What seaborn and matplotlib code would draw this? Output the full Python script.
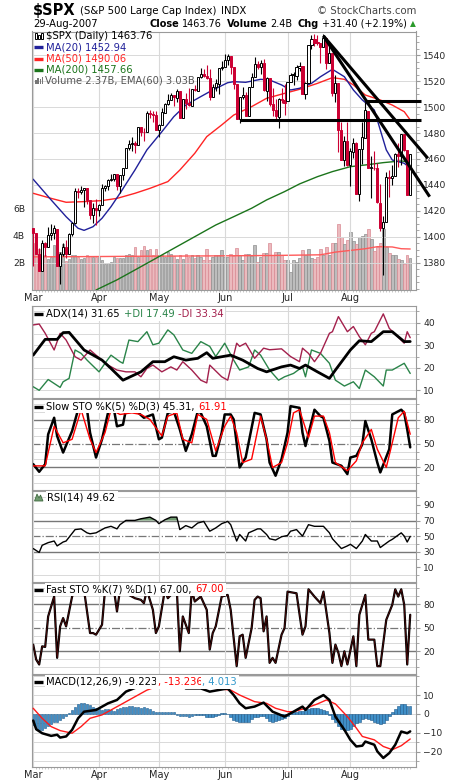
import numpy as np
import pandas as pd
import matplotlib
matplotlib.use('Agg')
import matplotlib.pyplot as plt
from matplotlib.lines import Line2D
from matplotlib.patches import Rectangle, Polygon
from matplotlib.ticker import MultipleLocator
import seaborn as sns

# trading days 1 Mar - 29 Aug 2007
holidays = ['2007-04-06', '2007-05-28', '2007-07-04']
dates = pd.bdate_range('2007-03-01', '2007-08-29').drop(pd.to_datetime(holidays))

opens = [1406.8, 1403.2, 1387.1, 1374.1, 1395.0, 1392.0, 1401.9, 1402.8, 1406.2, 1377.9, 1387.1, 1392.3, 1387.1, 1402.0, 1410.9, 1435.0, 1434.5, 1436.1, 1437.5, 1428.4, 1417.2, 1422.5,
         1420.8, 1424.3, 1437.8, 1439.4, 1443.8, 1444.6, 1448.2, 1438.9, 1447.8, 1452.8, 1468.5, 1471.5, 1472.5, 1470.7, 1484.3, 1480.9, 1480.4, 1495.3, 1494.2, 1494.1,
         1482.4, 1486.1, 1495.6, 1502.4, 1505.6, 1509.4, 1507.3, 1512.3, 1491.5, 1505.8, 1503.1, 1500.8, 1514.0, 1512.7, 1522.8, 1525.1, 1524.1, 1522.1, 1507.5, 1515.6, 1517.6, 1530.2,
         1530.6, 1536.3, 1539.1, 1530.6, 1517.4, 1490.7, 1507.6, 1509.1, 1492.7, 1515.6, 1523.0, 1532.9, 1531.1, 1533.7, 1512.5, 1522.2, 1502.6, 1497.7, 1492.6, 1506.3, 1505.7,
         1504.7, 1519.1, 1524.9, 1524.0, 1530.4, 1531.9, 1510.1, 1518.7, 1547.7, 1552.5, 1549.5, 1549.2, 1546.1, 1553.2, 1534.1, 1541.6, 1511.0, 1518.1, 1482.4, 1458.9, 1473.9,
         1455.2, 1465.5, 1472.2, 1433.0, 1467.6, 1476.2, 1497.2, 1453.1, 1453.4, 1452.9, 1426.2, 1406.6, 1411.3, 1445.9, 1445.6, 1447.0, 1464.1, 1462.3, 1479.4, 1466.7, 1432.0]
highs = [1406.8, 1403.4, 1391.9, 1397.9, 1396.1, 1407.9, 1410.2, 1409.3, 1406.2, 1388.1, 1395.7, 1397.5, 1403.2, 1411.5, 1437.8, 1437.7, 1438.9, 1437.7, 1437.5, 1428.4, 1426.2, 1429.2,
         1425.5, 1440.6, 1440.2, 1444.9, 1448.1, 1448.7, 1448.4, 1448.0, 1453.1, 1468.6, 1474.4, 1476.6, 1474.2, 1484.7, 1484.3, 1483.8, 1496.6, 1498.0, 1497.3, 1497.2,
         1487.3, 1499.1, 1503.3, 1510.3, 1511.0, 1509.4, 1513.8, 1512.3, 1506.2, 1510.9, 1514.8, 1514.2, 1517.1, 1522.8, 1529.9, 1529.2, 1532.4, 1529.3, 1517.4, 1521.8, 1530.2, 1535.6,
         1540.6, 1540.5, 1539.1, 1530.6, 1517.4, 1507.8, 1515.5, 1511.3, 1515.7, 1526.5, 1538.7, 1535.4, 1535.9, 1537.3, 1522.9, 1522.2, 1514.3, 1506.1, 1506.8, 1514.8, 1517.5,
         1519.5, 1526.0, 1526.6, 1532.4, 1534.3, 1531.9, 1519.3, 1547.9, 1555.1, 1555.9, 1555.3, 1549.2, 1555.9, 1553.2, 1547.2, 1541.6, 1524.3, 1518.1, 1488.5, 1477.9, 1488.3,
         1468.4, 1476.4, 1473.2, 1467.7, 1488.3, 1503.9, 1497.2, 1462.0, 1466.3, 1456.7, 1440.8, 1415.9, 1450.3, 1451.8, 1455.3, 1464.9, 1472.1, 1479.4, 1479.4, 1466.7, 1463.8]
lows = [1377.7, 1386.9, 1374.0, 1374.1, 1385.2, 1392.0, 1397.3, 1398.4, 1377.7, 1364.0, 1385.2, 1383.6, 1387.1, 1400.7, 1409.9, 1429.9, 1433.2, 1423.3, 1425.5, 1414.1, 1410.9, 1408.9,
        1416.4, 1424.3, 1435.1, 1436.0, 1443.3, 1443.0, 1436.2, 1433.9, 1444.1, 1452.8, 1467.2, 1466.4, 1464.5, 1470.7, 1478.0, 1473.7, 1480.4, 1491.4, 1488.7, 1482.3,
        1476.7, 1486.1, 1495.6, 1501.8, 1505.5, 1500.7, 1503.8, 1491.4, 1491.5, 1498.3, 1500.4, 1500.8, 1512.1, 1512.7, 1522.7, 1523.0, 1521.9, 1505.2, 1507.5, 1512.0, 1510.1, 1528.7,
        1530.6, 1532.6, 1525.6, 1514.1, 1490.4, 1487.4, 1505.8, 1493.0, 1492.7, 1515.6, 1523.0, 1529.3, 1525.7, 1512.4, 1504.8, 1500.7, 1492.7, 1490.5, 1484.2, 1503.4, 1493.6,
        1504.7, 1519.1, 1517.2, 1520.5, 1527.5, 1510.0, 1506.1, 1518.7, 1544.9, 1546.7, 1547.7, 1533.7, 1546.1, 1529.2, 1534.1, 1508.6, 1503.7, 1465.3, 1458.9, 1454.3, 1454.3,
        1439.6, 1460.6, 1432.8, 1427.4, 1455.8, 1476.2, 1453.1, 1429.7, 1451.5, 1426.2, 1404.4, 1370.6, 1411.3, 1430.5, 1439.8, 1447.0, 1453.9, 1455.3, 1465.9, 1432.2, 1432.0]
closes = [1403.17, 1387.17, 1374.12, 1395.41, 1391.97, 1401.89, 1402.84, 1406.60, 1377.95, 1387.17, 1392.28, 1386.95, 1402.06, 1410.94, 1435.04, 1434.54, 1436.11, 1437.50, 1428.61, 1417.23, 1422.53, 1420.86,
          1424.55, 1437.77, 1439.37, 1443.76, 1444.61, 1448.39, 1438.87, 1447.80, 1452.85, 1468.33, 1471.48, 1472.50, 1470.73, 1484.35, 1480.93, 1480.41, 1495.42, 1494.25, 1494.07, 1482.37,
          1486.30, 1495.92, 1502.39, 1505.62, 1509.48, 1507.72, 1512.58, 1491.47, 1505.85, 1503.15, 1501.19, 1514.14, 1512.75, 1522.75, 1525.10, 1524.12, 1522.28, 1507.51, 1515.73, 1518.11, 1530.23, 1530.62,
          1536.34, 1539.18, 1530.95, 1517.38, 1490.72, 1507.67, 1509.12, 1493.00, 1515.67, 1522.97, 1532.91, 1531.05, 1533.70, 1512.84, 1522.19, 1502.56, 1497.74, 1492.89, 1506.34, 1505.71, 1503.35,
          1519.43, 1524.87, 1525.40, 1530.44, 1531.85, 1510.12, 1518.76, 1547.70, 1552.50, 1549.52, 1549.37, 1546.17, 1553.08, 1534.10, 1541.57, 1511.04, 1518.09, 1482.66, 1458.95, 1473.91, 1455.27,
          1465.81, 1472.20, 1433.06, 1467.67, 1476.71, 1497.49, 1453.09, 1453.64, 1452.92, 1426.54, 1406.70, 1411.27, 1445.94, 1445.55, 1447.12, 1464.07, 1462.50, 1479.37, 1466.79, 1432.36, 1463.76]
# volume in billions
volume = [3.5, 3.4, 3.05, 2.56, 2.56, 2.32, 2.44, 3.3, 3.2, 2.81, 3.4, 2.13, 2.32, 2.56, 2.6, 2.44, 2.27, 2.37, 2.56, 2.51,
          2.44, 2.44, 2.44, 2.2, 1.95, 2.03, 2.08, 2.44, 2.37, 2.37, 2.37, 2.56, 2.69, 2.56, 3.2, 2.44, 2.93, 3.25, 2.93, 3.05,
          2.56, 3.05, 2.56, 2.56, 2.44, 2.81, 2.69, 2.51, 2.32, 2.56, 2.32, 2.69, 2.44, 2.6, 2.37, 2.6, 2.44, 2.2, 3.0, 2.2,
          2.44, 2.56, 2.6, 2.93,
          2.44, 2.44, 2.69, 2.5, 3.13, 2.56, 2.2, 2.69, 2.69, 2.5, 3.3, 2.1, 2.44, 2.75, 2.75, 3.5, 2.56, 2.8, 2.8, 2.56, 2.2,
          2.2, 1.3, 2.2, 2.1, 2.35, 2.93, 2.56, 3.0, 2.37, 2.3, 2.44, 3.05, 2.56, 3.2, 2.56, 3.5, 3.45, 4.9, 3.9, 3.4, 3.7,
          4.3, 3.6, 3.4, 3.9, 4.0, 4.15, 4.5, 3.8, 2.9, 3.2, 3.5, 4.5, 3.2, 2.76, 2.6, 2.56, 2.3, 2.2, 1.9, 2.6, 2.37]

# moving averages (day index, value)
ma20_idx = [0, 6, 11, 15, 17, 20, 23, 26, 29, 34, 38, 43, 47, 51, 56, 60, 65, 67, 71, 76, 79, 83, 86, 89, 93, 96, 100, 104, 107, 110, 114, 116, 118, 120, 124, 126]
ma20 = [1444.4, 1428.5, 1415.6, 1406.7, 1405.1, 1407.9, 1414.4, 1423.3, 1433.6, 1451.5, 1467, 1481, 1492.6, 1501.5, 1508, 1513.1, 1518.7, 1519.5, 1519, 1521.3,
        1520.8, 1517, 1513.1, 1514.4, 1518.2, 1523.3, 1529, 1523.3, 1513.1, 1505.4, 1497.7, 1482.3, 1467, 1459.2, 1456.7, 1452.94]
ma50_idx = [0, 6, 11, 17, 23, 28, 34, 39, 45, 49, 54, 58, 63, 67, 73, 78, 84, 89, 95, 100, 104, 107, 111, 116, 120, 124, 126]
ma50 = [1433.6, 1429.7, 1426.7, 1427.2, 1428, 1429.7, 1433.6, 1437.4, 1442.6, 1451.5, 1464.4, 1477.2, 1486.2, 1493.8, 1500.3, 1506.7, 1510.5, 1513.6, 1518.2, 1522.6,
        1521.3, 1517, 1509.2, 1505.4, 1501.5, 1496.4, 1490.06]
ma200_idx = [21, 28, 34, 39, 45, 50, 56, 61, 67, 73, 78, 84, 89, 95, 100, 106, 111, 117, 123, 126]
ma200 = [1359.2, 1367, 1374.6, 1381, 1388.7, 1395.1, 1402.8, 1409.2, 1415.6, 1422.1, 1428.5, 1434.9, 1440.8, 1446.4, 1450.3, 1454.1, 1455.4, 1457.2, 1458.5, 1457.66]
vema_idx = [0, 20, 40, 60, 80, 96, 101, 105, 111, 115, 120, 123, 126]
vol_ema = [2.45, 2.47, 2.5, 2.52, 2.55, 2.6, 2.8, 2.9, 3.05, 3.2, 3.18, 3.05, 3.03]

# hand-drawn trendlines (day index, price)
trend_x = [[97, 132.5], [97, 131.9], [69, 129.5], [111, 129.5]]
trend_y = [[1554.7, 1431.0], [1554.7, 1460.5], [1490.0, 1490.0], [1505.0, 1505.0]]

# ADX(14)
adx_idx = [0, 4, 8, 10, 12, 17, 23, 26, 30, 36, 40, 44, 47, 51, 55, 58, 60, 66, 70, 75, 78, 83, 86, 89, 91, 95, 99, 101, 106, 109, 113, 117, 120, 124, 126]
adx = [25.6, 32.6, 32.6, 35.6, 35.7, 27.9, 23.4, 19.7, 14.5, 18.2, 22.7, 22.7, 24.9, 23.4, 24.2, 26.7, 24.2, 25.6, 23.4, 19.7,
       18.2, 20.4, 21.2, 19.7, 21.2, 18.2, 15.3, 19, 27.9, 32, 31.6, 36, 36, 31.6, 31.65]
pdi_idx = [0, 2, 5, 9, 10, 12, 14, 16, 18, 22, 24, 26, 29, 30, 32, 35, 38, 40, 42, 45, 47, 50, 53, 56, 59, 61, 64, 67, 69, 72,
           74, 76, 79, 82, 84, 87, 90, 91, 93, 96, 99, 101, 104, 107, 109, 111, 114, 117, 118, 120, 124, 126]
pdi = [11.6, 10, 14.8, 11.3, 13.8, 15.3, 27.9, 26.4, 23.4, 18.2, 22, 25.6, 22.7, 22, 32.3, 31.6, 36, 30.2, 30.9, 36.8,
       34.6, 27.9, 26.4, 31.6, 29.5, 25, 30.9, 23.4, 19, 20.4, 27.9, 25.6, 19, 14.5, 16, 17.5, 20.4, 16, 27.9, 26.4,
       22, 14.5, 11.9, 13.8, 10.8, 19, 16, 11.9, 19, 19, 22, 17.49]
mdi_idx = [0, 2, 4, 7, 9, 11, 14, 16, 19, 21, 25, 28, 31, 34, 36, 38, 40, 43, 46, 48, 50, 53, 56, 58, 59, 63, 65, 68, 69, 71,
           74, 77, 79, 83, 86, 89, 90, 92, 94, 96, 99, 100, 102, 105, 107, 109, 111, 113, 114, 117, 119, 124, 125, 126]
mdi = [39, 39.4, 35.3, 27.9, 35.3, 32.3, 24.9, 23.4, 27.9, 25.6, 21.2, 19, 18.2, 18.2, 16, 19.7, 21.2, 18.2, 20.4, 19,
       22.7, 19, 14.5, 13.3, 21.2, 16, 14.5, 30.9, 29.5, 30.9, 24.2, 28.7, 28, 28.4, 25, 22.7, 28.7, 26.4, 22.7, 26.4,
       35.3, 36, 42.7, 36, 38.3, 33.8, 30.2, 35.3, 36, 43.9, 37.5, 30.9, 36, 33.34]

# Slow stochastic %K(5) %D(3)
sk_idx = [0, 2, 4, 5, 7, 8, 10, 13, 15, 18, 19, 21, 23, 25, 27, 28, 30, 31, 34, 37, 40, 42, 43, 45, 47, 49, 51, 53, 55, 56,
          58, 60, 61, 63, 64, 66, 67, 69, 71, 74, 76, 78, 79, 81, 83, 85, 86, 89, 90, 91, 94, 96, 97, 99, 100, 103, 105, 106, 108, 110,
          111, 113, 115, 116, 119, 120, 123, 124, 125, 126]
slow_k = [24, 14.3, 24, 61.8, 82.8, 59.7, 38.7, 66, 93, 93, 63.9, 32.4, 55.5, 89, 93, 72, 74, 93, 93, 82.8,
          87, 55.5, 57.6, 89, 91, 68, 40.8, 61.8, 91, 89, 72, 34.5, 34.5, 63.9, 87, 87, 80.7, 19.8, 32.4, 89,
          87, 55.5, 26, 9.3, 30.3, 63.9, 97.5, 95.4, 63.9, 47, 93, 84.9, 82.8, 53.4, 26, 21.9, 11.4, 32.4, 34.5, 49.2,
          78.6, 55.5, 26, 13.5, 42.9, 87, 93, 89, 68, 45.31]
sd_idx = [0, 4, 7, 10, 13, 16, 19, 21, 24, 26, 29, 33, 36, 39, 43, 45, 48, 50, 53, 55, 58, 61, 64, 66, 68, 70, 73, 76, 78, 80,
          83, 85, 87, 89, 92, 94, 97, 99, 101, 105, 108, 110, 113, 115, 118, 120, 122, 124, 126]
slow_d = [21.8, 21.8, 72, 51, 55.5, 93, 55.5, 38.7, 63.9, 93, 87, 89, 87, 80.7, 59.7, 84.9, 89, 55.5, 51, 87,
          80.7, 40.8, 72, 84.9, 63.9, 26, 30.3, 84.9, 55.5, 19.8, 26, 51, 89, 93, 57.6, 84.9, 84.9, 63.9, 26, 15.6,
          28.2, 51, 68, 42.9, 19.8, 51, 82.8, 91, 61.91]

# RSI(14)
rsi_idx = [0, 2, 3, 5, 7, 8, 10, 11, 14, 16, 18, 19, 21, 24, 26, 28, 29, 31, 34, 36, 39, 41, 42, 44, 46, 48, 49, 51, 53, 55,
           57, 59, 61, 63, 65, 66, 68, 69, 71, 72, 75, 76, 78, 79, 81, 83, 85, 86, 88, 90, 92, 94, 97, 99, 100, 103, 105, 106, 108, 110,
           111, 113, 115, 116, 119, 120, 123, 124, 125, 126]
rsi = [34, 29, 38.2, 41.6, 43.7, 37.4, 42.4, 43.7, 58.4, 59.3, 54.2, 53, 54.2, 60.5, 62.6, 59.3, 64.7, 70.2, 70.2, 72.3,
       74.4, 70.2, 66, 71, 74.4, 74.4, 58.4, 63.5, 60.5, 66.8, 68.9, 56.3, 60.5, 66, 68.9, 64.7, 43.7, 52.1, 43.7, 54.2,
       59.3, 59.3, 52.1, 46.6, 44.9, 49.2, 50.8, 56.3, 58.4, 50, 64.7, 62.6, 62.6, 54.2, 46.6, 34, 37.4, 39.5, 34, 43.7,
       52.1, 43.7, 43.7, 35.3, 43.7, 45.8, 54.2, 50, 42.4, 49.62]

# Fast stochastic %K(7)
fk_idx = [0, 1, 2, 3, 4, 5, 7, 8, 9, 10, 11, 13, 14, 17, 19, 20, 21, 23, 24, 27, 28, 29, 34, 36, 37, 38, 40, 41, 42, 44,
          45, 46, 48, 49, 50, 52, 53, 54, 56, 58, 59, 60, 61, 63, 65, 66, 68, 69, 70, 71, 73, 74, 75, 76, 77, 78, 79, 80, 81, 83,
          84, 85, 88, 90, 91, 92, 94, 96, 97, 99, 100, 101, 102, 103, 104, 105, 107, 108, 109, 111, 112, 114, 115, 116, 118, 120,
          121, 122, 123, 124, 125, 126]
fast_k = [28.5, 9.4, 3.1, 26.3, 25.5, 64.4, 89.7, 11.6, 51.7, 62.3, 51.7, 89.7, 98, 98, 43.2, 43.2, 41.1, 53.8, 98, 98,
          70.7, 98, 87.6, 85.5, 81.3, 98, 72.8, 43.2, 51.7, 98, 87.6, 91.8, 98, 20, 64.4, 43.2, 98, 83.4, 89.7, 72.8,
          22.1, 43.2, 51.7, 89.7, 91.8, 72.8, 1, 39, 41.1, 11.6, 49.6, 85.5, 89.7, 87.6, 45.4, 64.4, 5.2, 11.6, 5.2, 41.1,
          49.6, 96, 93.9, 41.1, 51.7, 99, 89.7, 81.3, 96, 43.2, 5.2, 28.5, 17.9, 1, 20, 3.1, 39, 1, 66.5, 91.8,
          34.8, 34.8, 1, 1, 60.1, 79.2, 99, 89.7, 99, 79.2, 3.1, 66.5]

# MACD(12,26,9)
macd_idx = [0, 1, 3, 6, 8, 9, 11, 13, 15, 17, 21, 25, 28, 31, 35, 37, 40, 44, 47, 50, 51, 56, 59, 65, 67, 69, 71, 74, 77, 80,
            84, 87, 90, 91, 94, 97, 99, 101, 104, 106, 108, 110, 111, 114, 115, 117, 119, 121, 123, 125, 126]
macd = [-3.5, -8.1, -10.2, -11.6, -11, -12.5, -11.9, -8.4, -2.3, 1.2, 2.1, 5.6, 7.4, 11.8, 14.4, 14.5, 15.5, 16.8, 17.3, 15.6,
        13.5, 13.5, 11.8, 13.5, 10, 5.6, 3, 3.9, 6, 1.2, -1.4, 1.2, 3.9, 2.1, 7.4, 10, 7.4, -1.4, -8.4, -13.7,
        -17.2, -16.8, -14.6, -16.3, -19.8, -23.3, -20.7, -16.3, -9.3, -10.2, -9.223]
sig_idx = [0, 3, 6, 9, 13, 16, 19, 23, 26, 29, 34, 38, 43, 47, 51, 56, 61, 66, 69, 74, 78, 81, 85, 87, 91, 95, 98, 101, 105, 108,
           110, 114, 117, 120, 123, 126]
signal = [3, -2.3, -6.7, -8.8, -10.2, -6.7, -2.3, -0.5, 2.1, 4.7, 9.1, 12.6, 15.5, 16.5, 14.4, 14.4, 13.5, 12.6, 10, 6.5,
          5.6, 3, 1.2, 1.2, 3, 5.3, 7.4, 5.3, -1.4, -7.5, -11.9, -13.7, -17.2, -18.9, -16.8, -13.236]
hist = [-6, -8, -9, -8.5, -7.5, -6.5, -5.5, -4.5, -4, -3,
        -2, -1, 0.5, 2, 3.5, 5, 6, 6, 5.5, 4.5,
        3.5, 3, 2.5, 2, 2.5, 2.5, 2, 1.5, 2.5, 3,
        3.5, 3.5, 4, 4, 3.5, 3.5, 3, 3.5, 3, 2.5,
        1.5, 1, 1, 1, 1, 1, 1, 0.8, -0.5, -1,
        -1, -1.2, -1.5, -1, -0.5, -0.5, -0.3, -0.5, -1.5, -1.5,
        -1.5, -1, -0.5, 0.3, 0.3, 0, -1.5, -3, -3.5, -4,
        -4, -4.5, -4, -2.5, -1.5, -1.5, -1, -1, -2, -3.5,
        -4, -3.5, -3, -2.5, -2, -1, 0.5, 1, 1, 1.5,
        1.5, 2, 2.5, 3, 3, 3, 2.5, 2, 1.5, -0.5,
        -2.5, -4.5, -6.5, -8, -8.5, -8.5, -8, -6.5, -5, -4,
        -2.5, -2, -2.5, -3, -4, -5, -5.5, -5, -3, -1,
        1, 2.5, 4, 5, 5, 4, 4.013]

# ---------------------------------------------------------------
sns.set_style('white')
plt.rcParams['font.family'] = ['DejaVu Sans']

W, H = 460, 781
fig = plt.figure(figsize=(W / 100, H / 100), dpi=100)
rend = fig.canvas.get_renderer()

RED = '#cc0033'
GRID = '#d9d9d9'
SPINE = '#9a9a9a'
TICK_FS = 6.6
LEG_FS = 7.2


def fx(px):
    return px / W


def fy(py):
    return 1 - py / H


def rect(l, t, r, b):
    return [l / W, 1 - b / H, (r - l) / W, (b - t) / H]


def write(x, y, parts, size=LEG_FS, bg=False):
    for s, col, wt, gap in parts:
        t = fig.text(fx(x), fy(y), s, color=col, fontsize=size, fontweight=wt,
                     va='center', ha='left', zorder=10)
        if bg:
            t.set_bbox(dict(facecolor='white', edgecolor='none', pad=1.4))
        x += t.get_window_extent(rend).width + gap
    return x


def icon_line(y, color, x0=34.5, x1=43.0):
    fig.add_artist(Line2D([fx(x0), fx(x1)], [fy(y), fy(y)], color=color, lw=2.4,
                          solid_capstyle='butt', zorder=11))


x = np.arange(len(closes))
o, h, l, c = (np.array(v) for v in (opens, highs, lows, closes))
prev = np.r_[o[0], c[:-1]]
down = c < prev
month_pos = [i for i in range(len(dates)) if i == 0 or dates[i].month != dates[i - 1].month]
month_lab = [dates[i].strftime('%b') for i in month_pos]
XLO, XHI = -0.4, 128.1


def style(ax, ylim, ticks, minor=None, labels=False):
    ax.set_xlim(XLO, XHI)
    ax.set_ylim(*ylim)
    ax.yaxis.tick_right()
    ax.set_yticks(ticks)
    if minor:
        ax.yaxis.set_minor_locator(MultipleLocator(minor))
    ax.set_xticks(month_pos)
    ax.set_xticks(x, minor=True)
    ax.set_xticklabels(month_lab if labels else [])
    ax.tick_params(axis='y', which='major', labelsize=TICK_FS, length=3, color=SPINE, pad=2)
    ax.tick_params(axis='y', which='minor', length=2, color=SPINE)
    ax.tick_params(axis='x', which='major', labelsize=7, length=0, pad=2.5)
    ax.tick_params(axis='x', which='minor', length=1.5, width=0.5, color='#b0b0b0', bottom=True)
    for sp in ax.spines.values():
        sp.set_color(SPINE)
        sp.set_linewidth(0.8)
    ax.grid(True, which='major', axis='x', color=GRID, lw=0.8)
    ax.set_xlabel('')
    ax.set_ylabel('')


def hgrid(ax, levels, color=GRID, lw=0.7, ls='-'):
    for v in levels:
        ax.axhline(v, color=color, lw=lw, ls=ls, zorder=0.5)


# ---------------- price panel (volume underneath) ----------------
ax_vol = fig.add_axes(rect(32, 31.5, 416.5, 290))
ax_vol.set_xlim(XLO, XHI)
ax_vol.set_ylim(0, 19.1)
ax_vol.bar(x, volume, width=0.85, color=np.where(down, '#ebbabe', '#bdbdbd'),
           edgecolor=np.where(down, '#d98a92', '#8e8e8e'), linewidth=0.5, zorder=2)
sns.lineplot(x=vema_idx, y=vol_ema, ax=ax_vol, color='#ff5a5a', linewidth=1.0, legend=False, zorder=3)
ax_vol.set_yticks([2, 4, 6])
ax_vol.set_yticklabels(['2B', '4B', '6B'])
ax_vol.set_xticks([])
ax_vol.tick_params(axis='y', labelsize=TICK_FS, length=3, color=SPINE, pad=2)
for sp in ax_vol.spines.values():
    sp.set_visible(False)
ax_vol.set_xlabel('')
ax_vol.set_ylabel('')

ax = fig.add_axes(rect(32, 31.5, 416.5, 290))
ax.patch.set_visible(False)
style(ax, (1359.2, 1558.1), list(range(1380, 1541, 20)), minor=5, labels=True)
hgrid(ax, range(1380, 1541, 20))

sns.lineplot(x=ma200_idx, y=ma200, ax=ax, color='#1b741b', linewidth=1.0, legend=False, zorder=2)
sns.lineplot(x=ma50_idx, y=ma50, ax=ax, color='#ff2424', linewidth=1.0, legend=False, zorder=2)
sns.lineplot(x=ma20_idx, y=ma20, ax=ax, color='#20209a', linewidth=1.0, legend=False, zorder=2)

edge = np.where(down, RED, 'black')
face = np.where(c < o, RED, 'white')
ax.vlines(x, l, h, colors=edge, lw=0.8, zorder=3)
ax.bar(x, np.maximum(np.abs(c - o), 0.5), bottom=np.minimum(o, c), width=0.7,
       color=face, edgecolor=edge, linewidth=0.7, zorder=4)

for tx, ty in zip(trend_x, trend_y):
    ax.plot(tx, ty, color='black', lw=2.2, solid_capstyle='butt', clip_on=False, zorder=5)
ax.set_xlabel('')
ax.set_ylabel('')

# ---------------- ADX ----------------
ax1 = fig.add_axes(rect(32, 306, 416.5, 398))
style(ax1, (6.6, 47.4), [10, 20, 30, 40], minor=5)
hgrid(ax1, range(10, 46, 5))
sns.lineplot(x=pdi_idx, y=pdi, ax=ax1, color='#2a8449', linewidth=1.0, legend=False)
sns.lineplot(x=mdi_idx, y=mdi, ax=ax1, color='#a3204c', linewidth=1.0, legend=False)
sns.lineplot(x=adx_idx, y=adx, ax=ax1, color='black', linewidth=2.0, legend=False)

# ---------------- Slow STO ----------------
ax2 = fig.add_axes(rect(32, 399, 416.5, 490))
style(ax2, (-8.8, 106.6), [20, 50, 80], minor=10)
hgrid(ax2, [0, 10, 30, 40, 60, 70, 90, 100])
hgrid(ax2, [20, 80], color='#777777', lw=1.0)
hgrid(ax2, [50], color='#777777', lw=0.9, ls='-.')
sns.lineplot(x=sk_idx, y=slow_k, ax=ax2, color='black', linewidth=1.8, legend=False)
sns.lineplot(x=sd_idx, y=slow_d, ax=ax2, color='#ff0000', linewidth=1.0, legend=False)

# ---------------- RSI ----------------
ax3 = fig.add_axes(rect(32, 491, 416.5, 582))
style(ax3, (-9, 108), [10, 30, 50, 70, 90], minor=10)
hgrid(ax3, [0, 20, 40, 60, 80, 100])
hgrid(ax3, [30, 70], color='#777777', lw=1.0)
hgrid(ax3, [50], color='#777777', lw=0.9, ls='-.')
r_i, r_v = np.array(rsi_idx), np.array(rsi)
ax3.fill_between(r_i, r_v, 70, where=r_v > 70, interpolate=True, color='#6f9a6f', lw=0)
ax3.fill_between(r_i, r_v, 30, where=r_v < 30, interpolate=True, color='#6f9a6f', lw=0)
sns.lineplot(x=rsi_idx, y=rsi, ax=ax3, color='black', linewidth=1.0, legend=False)

# ---------------- Fast STO ----------------
ax4 = fig.add_axes(rect(32, 583, 416.5, 674))
style(ax4, (-9, 107), [20, 50, 80], minor=10)
hgrid(ax4, [0, 10, 30, 40, 60, 70, 90, 100])
hgrid(ax4, [20, 80], color='#777777', lw=1.0)
hgrid(ax4, [50], color='#777777', lw=0.9, ls='-.')
sns.lineplot(x=fk_idx, y=fast_k, ax=ax4, color='black', linewidth=1.6, legend=False)
sns.lineplot(x=fk_idx, y=fast_k, ax=ax4, color='#7a0f0f', linewidth=0.35, legend=False)

# ---------------- MACD ----------------
ax5 = fig.add_axes(rect(32, 675, 416.5, 766.5))
style(ax5, (-27.8, 20.6), [-20, -10, 0, 10], minor=5, labels=True)
hgrid(ax5, range(-25, 21, 5))
ax5.bar(x, hist, width=0.85, color='#3f8fc8', edgecolor='#1f5a8a', linewidth=0.4, zorder=2)
sns.lineplot(x=sig_idx, y=signal, ax=ax5, color='#ff1a1a', linewidth=1.0, legend=False, zorder=3)
sns.lineplot(x=macd_idx, y=macd, ax=ax5, color='black', linewidth=1.8, legend=False, zorder=4)

for a in (ax1, ax2, ax3, ax4, ax5):
    a.set_xlabel('')
    a.set_ylabel('')

# ---------------- header ----------------
nx = write(33, 10, [('$SPX', 'black', 'bold', 4)], size=10.5)
write(nx, 10.5, [('(S&P 500 Large Cap Index)', 'black', 'normal', 5), ('INDX', 'black', 'normal', 0)], size=7.3)
fig.text(fx(416), fy(10.5), '\u00a9 StockCharts.com', color='#444444', fontsize=7.3, ha='right', va='center')
write(33, 24, [('29-Aug-2007', 'black', 'normal', 0)], size=7.2)
ex = write(149, 24, [('Close', 'black', 'bold', 3), ('1463.76', 'black', 'normal', 5),
                     ('Volume', 'black', 'bold', 3), ('2.4B', 'black', 'normal', 5),
                     ('Chg', 'black', 'bold', 3), ('+31.40 (+2.19%)', 'black', 'normal', 3)], size=7.0)
fig.text(fx(ex), fy(24), '\u25b2', color='#2a9a2a', fontsize=5.5, ha='left', va='center')

# ---------------- legends ----------------
for bx, by, bh in [(35, 33.5, 5), (38, 34.5, 4), (41, 33, 6)]:
    fig.add_artist(Rectangle((fx(bx), fy(by + bh)), 1.6 / W, bh / H, transform=fig.transFigure,
                             facecolor='white', edgecolor='black', lw=0.7, zorder=10))
write(46, 36, [('$SPX (Daily) 1463.76', 'black', 'normal', 0)])
icon_line(47.3, '#20209a')
write(46, 47.3, [('MA(20) 1452.94', '#20209a', 'normal', 0)])
icon_line(58.7, '#ff2424')
write(46, 58.7, [('MA(50) 1490.06', '#ff2424', 'normal', 0)])
icon_line(69.6, '#1b741b')
write(46, 69.6, [('MA(200) 1457.66', '#1b741b', 'normal', 0)])
for bx, bh in [(35, 4), (37.3, 6), (39.6, 5), (41.9, 7)]:
    fig.add_artist(Rectangle((fx(bx), fy(84)), 1.6 / W, bh / H, transform=fig.transFigure,
                             facecolor='#777777', edgecolor='none', zorder=10))
write(45, 80.5, [('Volume 2.37B, EMA(60) 3.03B', '#555555', 'normal', 0)])

icon_line(314, 'black')
write(46.5, 314, [('ADX(14) 31.65', 'black', 'normal', 3.5), ('+DI 17.49', '#2a8449', 'normal', 3.5),
                  ('-DI 33.34', '#a3204c', 'normal', 0)], bg=True)
icon_line(406.5, 'black')
write(46.5, 406.5, [('Slow STO %K(5) %D(3) 45.31,', 'black', 'normal', 3.5), ('61.91', '#ff0000', 'normal', 0)], bg=True)
fig.add_artist(Polygon([[fx(34.5), fy(501)], [fx(37), fy(494)], [fx(39), fy(498)], [fx(40.5), fy(495)],
                        [fx(43), fy(501)]], closed=True, transform=fig.transFigure,
                       facecolor='#6f9a6f', edgecolor='#3f6a3f', lw=0.6, zorder=11))
write(47.5, 497.5, [('RSI(14) 49.62', 'black', 'normal', 0)], bg=True)
icon_line(589.5, 'black')
write(46.5, 589.5, [('Fast STO %K(7) %D(1) 67.00,', 'black', 'normal', 3.5), ('67.00', '#ff0000', 'normal', 0)], bg=True)
icon_line(682, 'black')
write(46.5, 682, [('MACD(12,26,9) -9.223', 'black', 'normal', 0), (', -13.236', '#ff0000', 'normal', 0),
                  (', 4.013', '#3399cc', 'normal', 0)], bg=True)

fig.savefig('out.png', dpi=100, facecolor='white')
